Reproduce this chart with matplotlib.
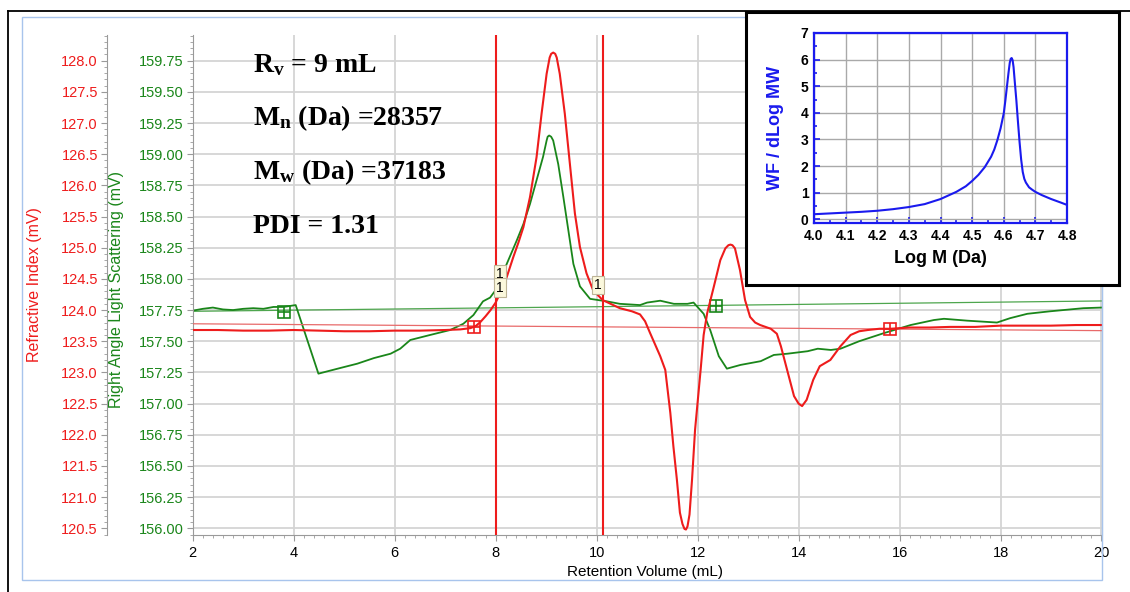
import matplotlib
matplotlib.use("Agg")
import matplotlib.pyplot as plt
from matplotlib.ticker import MultipleLocator, FormatStrFormatter
from matplotlib.lines import Line2D
from matplotlib.patches import Rectangle

plt.rcParams['font.family'] = ['Liberation Sans', 'DejaVu Sans']

# ---------------- data ----------------
# Refractive index trace (mV) vs retention volume (mL)
ri_vol = [2.0, 2.5, 3.0, 3.5, 4.0, 4.5, 5.0, 5.5, 6.0, 6.5, 7.0, 7.3, 7.5, 7.6,
          7.7, 7.8, 7.9, 8.0, 8.09, 8.22, 8.35, 8.45, 8.55, 8.68, 8.81, 8.91,
          9.01, 9.07, 9.10, 9.14, 9.18, 9.21, 9.27, 9.37, 9.47, 9.57, 9.67, 9.80,
          9.93, 10.12, 10.46, 10.70, 10.86, 10.96, 11.06, 11.26, 11.36, 11.46,
          11.52, 11.59, 11.65, 11.70, 11.74, 11.77, 11.80, 11.84, 11.89, 11.95,
          12.06, 12.12, 12.19, 12.32, 12.45, 12.55, 12.61, 12.65, 12.69, 12.74,
          12.84, 12.94, 13.04, 13.14, 13.24, 13.45, 13.57, 13.65, 13.77, 13.91,
          14.00, 14.07, 14.16, 14.29, 14.42, 14.63, 14.83, 15.03, 15.20, 15.37,
          15.60, 15.82, 16.2, 16.6, 17.0, 17.5, 18.0, 18.5, 19.0, 19.5, 20.0]
ri_mv = [123.68, 123.68, 123.67, 123.67, 123.68, 123.67, 123.66, 123.66, 123.67,
         123.67, 123.68, 123.69, 123.71, 123.74, 123.81, 123.90, 124.00, 124.12,
         124.27, 124.53, 124.85, 125.08, 125.33, 125.81, 126.45, 127.15, 127.79,
         128.05, 128.11, 128.13, 128.11, 128.05, 127.79, 127.15, 126.35, 125.55,
         125.01, 124.59, 124.32, 124.16, 124.03, 123.98, 123.93, 123.82, 123.63,
         123.26, 123.04, 122.35, 121.82, 121.28, 120.75, 120.57, 120.49, 120.48,
         120.53, 120.72, 121.28, 122.08, 123.04, 123.60, 123.95, 124.37, 124.80,
         124.99, 125.04, 125.05, 125.04, 124.99, 124.64, 124.16, 123.89, 123.80,
         123.76, 123.70, 123.62, 123.42, 123.05, 122.62, 122.50, 122.46, 122.56,
         122.88, 123.10, 123.20, 123.42, 123.60, 123.66, 123.68, 123.70, 123.70,
         123.72, 123.72, 123.73, 123.73, 123.75, 123.75, 123.75, 123.76, 123.76]

# Right angle light scattering trace (mV)
rals_vol = [2.0, 2.2, 2.4, 2.6, 2.8, 3.0, 3.2, 3.4, 3.6, 3.8, 4.04, 4.49, 4.92,
            5.26, 5.59, 5.92, 6.11, 6.31, 6.70, 7.10, 7.36, 7.56, 7.75, 7.89,
            8.0, 8.22, 8.42, 8.55, 8.68, 8.81, 8.94, 9.01, 9.03, 9.06, 9.10,
            9.14, 9.24, 9.34, 9.44, 9.54, 9.67, 9.87, 10.2, 10.46, 10.86, 11.0,
            11.26, 11.53, 11.8, 11.92, 12.02, 12.12, 12.25, 12.42, 12.58, 12.85,
            13.25, 13.51, 13.78, 14.18, 14.38, 14.64, 14.83, 15.2, 15.69, 16.22,
            16.68, 16.88, 17.34, 17.93, 18.19, 18.53, 18.98, 19.64, 20.0]
rals_mv = [157.745, 157.76, 157.77, 157.755, 157.75, 157.76, 157.765, 157.76,
           157.775, 157.775, 157.79, 157.24, 157.285, 157.32, 157.365, 157.40,
           157.44, 157.51, 157.55, 157.59, 157.64, 157.71, 157.82, 157.85,
           157.91, 158.12, 158.31, 158.44, 158.60, 158.79, 158.98, 159.11,
           159.14, 159.15, 159.14, 159.11, 158.92, 158.66, 158.39, 158.12,
           157.94, 157.84, 157.82, 157.80, 157.79, 157.81, 157.825, 157.80,
           157.80, 157.81, 157.765, 157.72, 157.59, 157.38, 157.28, 157.31,
           157.34, 157.39, 157.40, 157.42, 157.44, 157.43, 157.44, 157.50,
           157.565, 157.63, 157.67, 157.68, 157.665, 157.65, 157.685, 157.72,
           157.74, 157.765, 157.77]

# Baselines (start / end) and baseline markers
rals_base_vol = [2.0, 20.0]
rals_base_mv = [157.74, 157.823]
ri_base_vol = [2.0, 20.0]
ri_base_mv = [123.78, 123.67]
rals_mark_vol = [3.81, 12.36]
rals_mark_mv = [157.737, 157.78]
ri_mark_vol = [7.58, 15.82]
ri_mark_mv = [123.73, 123.69]

# Peak integration limits (mL)
limits = [8.0, 10.12]
# Limit tags: (volume, RALS-scale position)
tag_vol = [8.09, 8.09, 10.03]
tag_pos = [158.04, 157.93, 157.95]

# Results
results = [r"$\mathregular{R_v}$ = 9 mL",
           r"$\mathregular{M_n}$ (Da) =28357",
           r"$\mathregular{M_w}$ (Da) =37183",
           "PDI = 1.31"]

# Molecular weight distribution
log_m = [4.00, 4.05, 4.10, 4.15, 4.20, 4.25, 4.30, 4.35, 4.40, 4.45, 4.48, 4.50,
         4.52, 4.54, 4.56, 4.57, 4.58, 4.59, 4.60, 4.605, 4.61, 4.615, 4.619,
         4.622, 4.625, 4.628, 4.631, 4.635, 4.64, 4.645, 4.65, 4.655, 4.66,
         4.665, 4.67, 4.68, 4.69, 4.70, 4.72, 4.75, 4.78, 4.80]
wf_dlog = [0.19, 0.22, 0.25, 0.28, 0.32, 0.38, 0.46, 0.57, 0.76, 1.03, 1.24, 1.44,
           1.67, 1.96, 2.35, 2.62, 2.98, 3.42, 3.98, 4.45, 4.98, 5.50, 5.88,
           6.03, 6.06, 5.98, 5.72, 5.15, 4.45, 3.65, 2.90, 2.25, 1.78, 1.52,
           1.38, 1.20, 1.11, 1.03, 0.91, 0.76, 0.63, 0.54]

RED = '#ee1c1c'
GREEN = '#1a861a'
BLUE = '#1a1aee'

W, H = 1130, 592
fig = plt.figure(figsize=(W / 100, H / 100), dpi=100)


def fx(px):
    return px / W


def fy(py):
    return 1 - py / H


# outer frames
fig.add_artist(Line2D([fx(8), fx(8)], [fy(11), 0], color='black', lw=1.3))
fig.add_artist(Line2D([fx(8), 1], [fy(11), fy(11)], color='black', lw=1.3))
fig.add_artist(Rectangle((fx(22), fy(580)), fx(1102) - fx(22), fy(17) - fy(580),
                         fill=False, edgecolor='#a8c4ec', lw=1.0))

# ---------------- main chromatogram ----------------
ax = fig.add_axes([fx(192.7), fy(535), fx(1101.5) - fx(192.7), fy(35) - fy(535)])
ax.set_xlim(2, 20)
ax.set_ylim(155.946, 159.956)
ax.set_axisbelow(True)
ax.xaxis.set_major_locator(MultipleLocator(2))
ax.xaxis.set_minor_locator(MultipleLocator(0.2))
ax.yaxis.set_major_locator(MultipleLocator(0.25))
ax.yaxis.set_minor_locator(MultipleLocator(0.05))
ax.yaxis.set_major_formatter(FormatStrFormatter('%.2f'))
ax.grid(True, which='major', color='#d4d4d4', lw=1.3)
ax.spines['top'].set_visible(False)
ax.spines['right'].set_color('#a8c4ec')
ax.spines['left'].set_color('#9a9a9a')
ax.spines['bottom'].set_color('#9a9a9a')
ax.tick_params(axis='y', which='major', length=4, color='#9a9a9a',
               labelcolor=GREEN, labelsize=10.5, pad=2.5)
ax.tick_params(axis='y', which='minor', length=2.2, color='#9a9a9a')
ax.tick_params(axis='x', which='major', length=4, color='#9a9a9a',
               labelcolor='black', labelsize=10.5, pad=4)
ax.tick_params(axis='x', which='minor', length=2.2, color='#9a9a9a')

ax_r = ax.twinx()
ax_r.set_ylim(120.392, 128.412)
ax_r.yaxis.tick_left()
ax_r.yaxis.set_major_locator(MultipleLocator(0.5))
ax_r.yaxis.set_minor_locator(MultipleLocator(0.1))
ax_r.yaxis.set_major_formatter(FormatStrFormatter('%.1f'))
for s in ['top', 'bottom', 'right']:
    ax_r.spines[s].set_visible(False)
ax_r.spines['left'].set_position(('outward', 61.7))
ax_r.spines['left'].set_color('#9a9a9a')
ax_r.tick_params(axis='y', which='major', length=4, color='#9a9a9a',
                 labelcolor=RED, labelsize=10.5, pad=2.5)
ax_r.tick_params(axis='y', which='minor', length=2.2, color='#9a9a9a')

# baselines
ax.plot(rals_base_vol, rals_base_mv, color='#4ea64e', lw=0.9)
ax_r.plot(ri_base_vol, ri_base_mv, color='#e86a6a', lw=0.9)

# traces
ax.plot(rals_vol, rals_mv, color=GREEN, lw=1.3)
ax_r.plot(ri_vol, ri_mv, color=RED, lw=1.5)

# baseline markers
ax.plot(rals_mark_vol, rals_mark_mv, ls='none', marker='s', ms=8.5, mfc='none',
        mec=GREEN, mew=1.2)
ax.plot(rals_mark_vol, rals_mark_mv, ls='none', marker='+', ms=8.5, mec=GREEN, mew=1.2)
ax_r.plot(ri_mark_vol, ri_mark_mv, ls='none', marker='s', ms=8.5, mfc='none',
          mec=RED, mew=1.2)
ax_r.plot(ri_mark_vol, ri_mark_mv, ls='none', marker='+', ms=8.5, mec=RED, mew=1.2)

# integration limits
for v in limits:
    ax_r.axvline(v, color=RED, lw=1.5)

for v, p in zip(tag_vol, tag_pos):
    ax_r.text(v, 120.5 + (p - 156.0) * 2, '1', ha='center', va='center', fontsize=10,
              color='black', zorder=6,
              bbox=dict(boxstyle='square,pad=0.16', fc='#fbf8dc', ec='#bdb496', lw=0.8))

# result annotations
for i, t in enumerate(results):
    fig.text(fx(252.7), fy(71.7 + 53.9 * i), t, family=['Liberation Serif', 'DejaVu Serif'],
             weight='bold', fontsize=20, va='baseline', ha='left')

# axis labels
fig.text(fx(35), fy(285), 'Refractive Index (mV)', rotation=90, color=RED,
         fontsize=11.5, ha='center', va='center')
fig.text(fx(117), fy(290), 'Right Angle Light Scattering (mV)', rotation=90,
         color=GREEN, fontsize=11.5, ha='center', va='center')
fig.text(fx(645), fy(572), 'Retention Volume (mL)', color='black', fontsize=11,
         ha='center', va='center')

# ---------------- inset: molecular weight distribution ----------------
ax_box = fig.add_axes([fx(746), fy(285), fx(1119) - fx(746), fy(12) - fy(285)])
ax_box.set_xticks([])
ax_box.set_yticks([])
ax_box.set_facecolor('white')
for s in ax_box.spines.values():
    s.set_color('black')
    s.set_linewidth(2.2)
ax_box.set_zorder(5)

ax_in = fig.add_axes([fx(814), fy(223), fx(1067) - fx(814), fy(33) - fy(223)])
ax_in.set_zorder(6)
ax_in.set_xlim(4.0, 4.8)
ax_in.set_ylim(-0.14, 7.0)
ax_in.xaxis.set_major_locator(MultipleLocator(0.1))
ax_in.xaxis.set_minor_locator(MultipleLocator(0.05))
ax_in.yaxis.set_major_locator(MultipleLocator(1))
ax_in.yaxis.set_minor_locator(MultipleLocator(0.5))
ax_in.xaxis.set_major_formatter(FormatStrFormatter('%.1f'))
ax_in.grid(True, which='major', color='#a9a9a9', lw=1.0)
ax_in.set_axisbelow(True)
for s in ax_in.spines.values():
    s.set_color(BLUE)
    s.set_linewidth(1.6)
ax_in.tick_params(which='both', direction='in', color=BLUE, width=1.2)
ax_in.tick_params(which='major', length=4, labelsize=10, pad=4)
ax_in.tick_params(which='minor', length=2.5)
for lab in ax_in.get_xticklabels() + ax_in.get_yticklabels():
    lab.set_fontweight('bold')
ax_in.plot(log_m, wf_dlog, color=BLUE, lw=1.5)
ax_in.set_xlabel('Log M (Da)', fontsize=13, fontweight='bold', color='black', labelpad=5)
ax_in.set_ylabel('WF / dLog MW', fontsize=13, fontweight='bold', color=BLUE, labelpad=12)

fig.savefig('out.png', dpi=100)
